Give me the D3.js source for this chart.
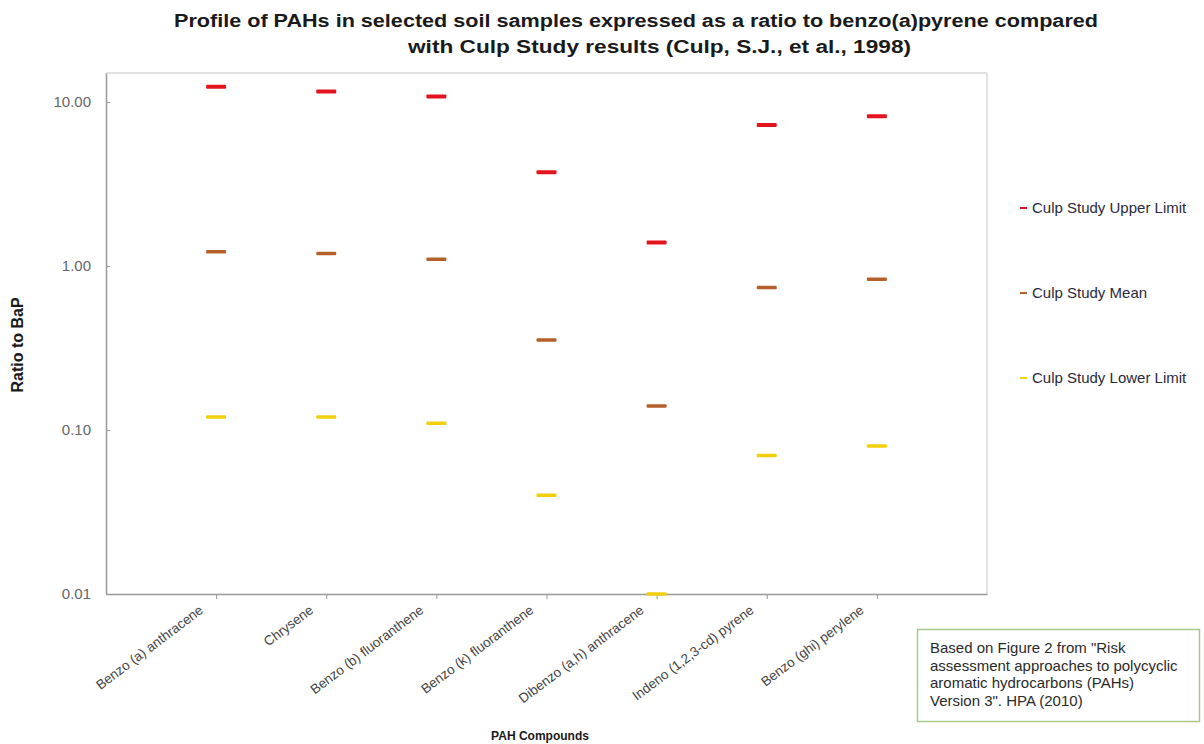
<!DOCTYPE html>
<html>
<head>
<meta charset="utf-8">
<script src="https://cdn.jsdelivr.net/npm/d3@7/dist/d3.min.js"></script>
<style>
  html, body { margin: 0; padding: 0; background: #fff; }
  svg { display: block; font-family: "Liberation Sans", Arial, sans-serif; }
</style>
</head>
<body>
<svg id="chart" width="1204" height="744"></svg>
<script>
// PAH compounds on the category axis
const compounds = [
  "Benzo (a) anthracene",
  "Chrysene",
  "Benzo (b) fluoranthene",
  "Benzo (k) fluoranthene",
  "Dibenzo (a,h) anthracene",
  "Indeno (1,2,3-cd) pyrene",
  "Benzo (ghi) perylene"
];

// Ratios to benzo(a)pyrene, Culp study
const upperLimit = [12.4, 11.6, 10.8, 3.73, 1.39, 7.24, 8.2];
const meanValue  = [1.22, 1.19, 1.10, 0.354, 0.14, 0.74, 0.83];
const lowerLimit = [0.12, 0.12, 0.11, 0.04, 0.01, 0.07, 0.08];

const yTicks = [0.01, 0.1, 1, 10];

const seriesNames = ["Culp Study Upper Limit", "Culp Study Mean", "Culp Study Lower Limit"];
const seriesColors = ["#e3141e", "#b5602a", "#f2cf0a"];

const titleLines = [
  "Profile of PAHs in selected soil samples expressed as a ratio to benzo(a)pyrene compared",
  "with Culp Study results (Culp, S.J., et al., 1998)"
];
const noteLines = [
  "Based on Figure 2 from \"Risk",
  "assessment approaches to polycyclic",
  "aromatic hydrocarbons  (PAHs)",
  "Version 3\". HPA (2010)"
];

const svg = d3.select("#chart");
const plot = { left: 106, right: 987, top: 73, bottom: 594 };

// log axis: decades sit 164px apart, frame extends a little above 10
const decadePx = (plot.bottom - 102) / 3;
const yTop = Math.pow(10, 1 + (102 - plot.top) / decadePx);
const y = d3.scaleLog().domain([0.01, yTop]).range([plot.bottom, plot.top]);

const x = d3.scalePoint().domain(compounds).range([plot.left, plot.right]).padding(1);

// title (wide bold face)
const titleLayout = [{ x: 174, len: 924, y: 27 }, { x: 408, len: 503, y: 53 }];
svg.append("g").selectAll("text").data(titleLines).join("text")
  .attr("x", (d, i) => titleLayout[i].x).attr("y", (d, i) => titleLayout[i].y)
  .attr("textLength", (d, i) => titleLayout[i].len)
  .attr("lengthAdjust", "spacingAndGlyphs")
  .attr("font-size", 18).attr("font-weight", "bold").attr("fill", "#1a1a1a")
  .text(d => d);

// plot frame (top and right edges)
svg.append("line")
  .attr("x1", plot.right).attr("x2", plot.right)
  .attr("y1", plot.top).attr("y2", plot.bottom)
  .attr("stroke", "#d9d9d9").attr("stroke-width", 1.5);
svg.append("line")
  .attr("x1", plot.left).attr("x2", plot.right)
  .attr("y1", plot.top).attr("y2", plot.top)
  .attr("stroke", "#d9d9d9").attr("stroke-width", 1.5);

// y axis
const yAxis = svg.append("g")
  .attr("transform", `translate(${plot.left},0)`)
  .call(d3.axisLeft(y).tickValues(yTicks).tickFormat(d3.format(".2f")).tickSizeInner(-4).tickSizeOuter(0).tickPadding(15));
yAxis.select(".domain").attr("stroke", "#999").attr("stroke-width", 1.5);
yAxis.selectAll(".tick line").attr("stroke", "#999");
yAxis.selectAll(".tick text").attr("font-size", 15).attr("fill", "#666");

// x axis
const xAxis = svg.append("g")
  .attr("transform", `translate(0,${plot.bottom})`)
  .call(d3.axisBottom(x).tickSizeInner(5).tickSizeOuter(0).tickFormat(""));
xAxis.select(".domain").attr("stroke", "#999").attr("stroke-width", 1.5);
xAxis.selectAll(".tick line").attr("stroke", "#999");

// slanted category labels
svg.append("g").selectAll("text").data(compounds).join("text")
  .attr("transform", d => `translate(${x(d) - 12},${plot.bottom + 18}) rotate(-37)`)
  .attr("text-anchor", "end")
  .attr("font-size", 13.5).attr("fill", "#444")
  .text(d => d);

// axis titles
svg.append("text")
  .attr("transform", `translate(23,345) rotate(-90)`)
  .attr("text-anchor", "middle")
  .attr("font-size", 16).attr("font-weight", "bold").attr("fill", "#1a1a1a")
  .text("Ratio to BaP");
svg.append("text")
  .attr("x", 540).attr("y", 740)
  .attr("text-anchor", "middle")
  .attr("font-size", 12).attr("font-weight", "bold").attr("fill", "#1a1a1a")
  .text("PAH Compounds");

// dash markers for each series
const series = [upperLimit, meanValue, lowerLimit];
const markW = 20, markH = [4, 3.5, 3.5];
series.forEach((vals, si) => {
  svg.append("g").selectAll("rect").data(vals).join("rect")
    .attr("x", (d, i) => x(compounds[i]) - markW / 2)
    .attr("y", d => y(d) - markH[si] / 2)
    .attr("width", markW).attr("height", markH[si])
    .attr("rx", 1)
    .attr("fill", seriesColors[si]);
});

// legend
const legend = svg.append("g").selectAll("g").data(seriesNames).join("g")
  .attr("transform", (d, i) => `translate(1020,${208 + i * 85})`);
legend.append("rect")
  .attr("x", 0).attr("y", -1).attr("width", 7).attr("height", 2)
  .attr("fill", (d, i) => seriesColors[i]);
legend.append("text")
  .attr("x", 12).attr("y", 5)
  .attr("font-size", 15).attr("fill", "#2a2a3a")
  .text(d => d);

// source note
svg.append("rect")
  .attr("x", 917.5).attr("y", 629.5).attr("width", 282).attr("height", 92)
  .attr("fill", "#fff").attr("stroke", "#a9c98a").attr("stroke-width", 1.5);
svg.append("g").selectAll("text").data(noteLines).join("text")
  .attr("x", 930).attr("y", (d, i) => 653 + i * 17.7)
  .attr("font-size", 15).attr("fill", "#2a2a2a")
  .text(d => d);
</script>
</body>
</html>
